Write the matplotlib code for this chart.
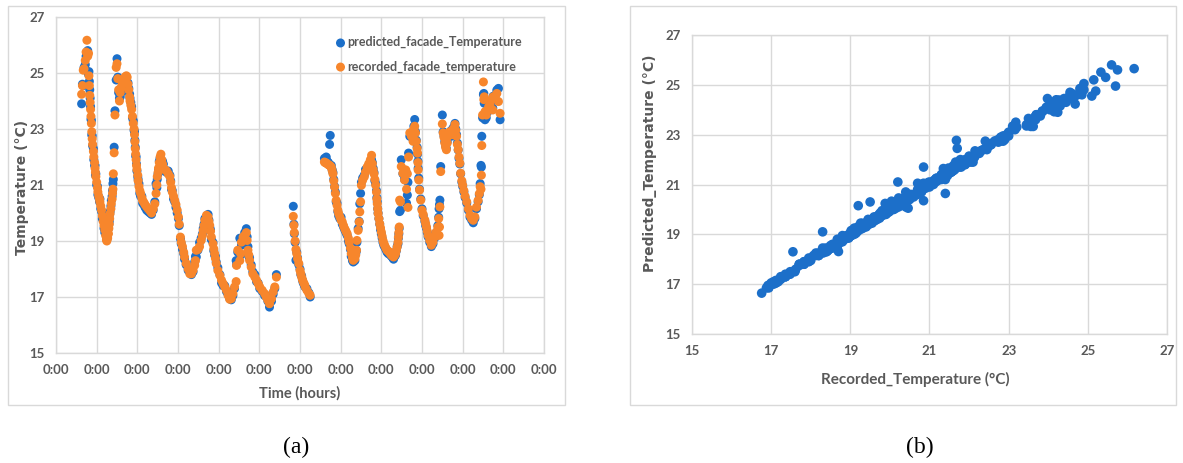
import matplotlib
matplotlib.use("Agg")
import matplotlib.pyplot as plt
from matplotlib.patches import Rectangle

# Facade temperature: time in days since start, recorded and predicted values (°C)
day = [
    0.63, 0.65, 0.67, 0.69, 0.72, 0.74, 0.76, 0.78, 0.80, 0.81, 0.82, 0.83, 0.84, 0.85, 0.86, 0.87,
    0.88, 0.89, 0.90, 0.92, 0.93, 0.95, 0.96, 0.97, 0.98, 1.00, 1.02, 1.03, 1.05, 1.07, 1.08, 1.10,
    1.12, 1.14, 1.16, 1.18, 1.20, 1.22, 1.24, 1.25, 1.27, 1.29, 1.30, 1.31, 1.32, 1.33, 1.35, 1.36,
    1.38, 1.39, 1.40, 1.41, 1.43, 1.45, 1.48, 1.50, 1.52, 1.54, 1.56, 1.58, 1.60, 1.62, 1.64, 1.66,
    1.68, 1.70, 1.73, 1.75, 1.77, 1.79, 1.81, 1.82, 1.84, 1.86, 1.88, 1.90, 1.92, 1.93, 1.94, 1.95,
    1.96, 1.97, 1.98, 1.99, 2.01, 2.02, 2.04, 2.06, 2.08, 2.11, 2.13, 2.16, 2.19, 2.23, 2.27, 2.31,
    2.35, 2.39, 2.43, 2.46, 2.48, 2.49, 2.51, 2.52, 2.54, 2.56, 2.58, 2.60, 2.62, 2.64, 2.68, 2.72,
    2.76, 2.80, 2.82, 2.84, 2.86, 2.89, 2.92, 2.95, 2.98, 3.01,
    3.03, 3.06, 3.08, 3.11, 3.14, 3.16, 3.20, 3.25, 3.29, 3.33, 3.37, 3.41, 3.43, 3.45, 3.49, 3.53,
    3.57, 3.60, 3.62, 3.64, 3.66, 3.70, 3.74, 3.76, 3.78, 3.80, 3.82, 3.86, 3.88, 3.90, 3.92, 3.94,
    3.98, 4.03, 4.07, 4.11, 4.15, 4.19, 4.23, 4.27, 4.31, 4.35, 4.39, 4.43,
    4.44, 4.47, 4.52, 4.54, 4.56, 4.60, 4.64, 4.68, 4.70, 4.72, 4.74, 4.76, 4.80, 4.84, 4.89, 4.93,
    4.97, 5.01, 5.07, 5.13, 5.17, 5.21, 5.25, 5.30, 5.34, 5.38, 5.42,
    5.835, 5.85, 5.86, 5.88, 5.90, 5.92, 5.94, 5.97, 6.00, 6.02, 6.04, 6.06, 6.08, 6.11, 6.13, 6.17,
    6.22, 6.25,
    6.60, 6.62, 6.645, 6.67, 6.70, 6.727, 6.744, 6.77, 6.79, 6.81, 6.83, 6.85, 6.87, 6.89, 6.91, 6.93,
    6.95, 6.98, 7.01, 7.04, 7.07, 7.10, 7.13, 7.16, 7.19, 7.21, 7.24, 7.26, 7.29, 7.31, 7.35, 7.37,
    7.39, 7.40, 7.43, 7.455, 7.47, 7.49, 7.51, 7.54, 7.58, 7.61, 7.65, 7.69, 7.73, 7.76,
    7.78, 7.80, 7.82, 7.84, 7.86, 7.88, 7.89, 7.90, 7.91, 7.92, 7.94, 7.96, 7.98, 8.00, 8.02, 8.04,
    8.06, 8.08, 8.11, 8.14, 8.17, 8.19, 8.22, 8.25, 8.28, 8.30, 8.33, 8.35, 8.37, 8.39, 8.41, 8.42,
    8.43, 8.44, 8.45, 8.47, 8.49, 8.53, 8.57, 8.60, 8.62, 8.64, 8.655, 8.67, 8.70, 8.74, 8.78, 8.80,
    8.82, 8.84, 8.86, 8.88, 8.89, 8.90, 8.905, 8.92, 8.94, 8.97, 9.00, 9.03, 9.07, 9.09, 9.11, 9.13,
    9.15, 9.19, 9.23, 9.27, 9.31, 9.35, 9.39, 9.41, 9.42, 9.43, 9.44, 9.46, 9.50, 9.52, 9.54, 9.56,
    9.58, 9.60, 9.62, 9.64, 9.68, 9.72, 9.75, 9.77, 9.81, 9.83, 9.85, 9.87, 9.89, 9.91, 9.93, 9.95,
    9.98, 10.00, 10.03, 10.06, 10.10, 10.14, 10.18, 10.22, 10.26, 10.30, 10.34, 10.38, 10.41, 10.43,
    10.45, 10.46, 10.47, 10.49, 10.51, 10.52, 10.53, 10.55, 10.58, 10.61, 10.64, 10.67, 10.71, 10.74,
    10.75, 10.80, 10.84, 10.88, 10.92,
]

recorded = [
    24.24, 24.55, 25.10, 25.15, 25.45, 25.75, 26.17, 25.60, 25.70, 24.90, 24.55, 24.20, 23.95, 23.70, 23.45, 23.20,
    22.90, 22.65, 22.45, 22.20, 22.00, 21.80, 21.60, 21.45, 21.30, 21.10, 20.90, 20.75, 20.60, 20.50, 20.40, 20.25,
    20.10, 19.90, 19.70, 19.55, 19.40, 19.20, 19.05, 19.00, 19.10, 19.26, 19.45, 19.60, 19.80, 19.98, 20.15, 20.33,
    20.50, 20.70, 20.85, 21.40, 22.15, 23.50, 25.20, 25.33, 24.80, 24.40, 24.00, 24.30, 24.45, 24.55, 24.65, 24.74,
    24.80, 24.86, 24.90, 24.85, 24.60, 24.40, 24.15, 24.00, 23.85, 23.70, 23.45, 23.20, 23.00, 22.80, 22.55, 22.30,
    22.10, 21.90, 21.70, 21.55, 21.35, 21.15, 20.95, 20.80, 20.70, 20.55, 20.45, 20.38, 20.30, 20.22, 20.15, 20.08,
    20.00, 20.15, 20.33, 20.70, 21.00, 21.30, 21.45, 21.60, 21.80, 22.00, 22.10, 21.90, 21.75, 21.60, 21.55, 21.50,
    21.40, 21.30, 21.10, 20.90, 20.75, 20.60, 20.45, 20.30, 20.10, 19.86,
    19.60, 19.14, 18.95, 18.80, 18.60, 18.43, 18.20, 18.00, 17.83, 17.83, 17.95, 18.13, 18.30, 18.67, 18.70, 18.80,
    19.02, 19.20, 19.38, 19.55, 19.74, 19.92, 19.86, 19.70, 19.56, 19.35, 19.14, 18.90, 18.72, 18.55, 18.38, 18.20,
    17.95, 17.77, 17.60, 17.48, 17.36, 17.24, 17.06, 16.92, 16.94, 17.12, 17.36, 17.55,
    18.13, 18.67, 18.30, 18.55, 18.96, 19.14, 19.20, 19.30, 19.02, 18.67, 18.50, 18.31, 18.07, 17.83, 17.71, 17.60,
    17.48, 17.36, 17.24, 17.12, 17.00, 16.88, 16.76, 16.94, 17.18, 17.36, 17.71,
    19.88, 19.56, 19.30, 19.00, 18.70, 18.55, 18.37, 18.20, 17.95, 17.83, 17.71, 17.62, 17.54, 17.45, 17.36, 17.24,
    17.12, 17.06,
    21.82, 21.80, 21.78, 21.76, 21.72, 21.70, 21.68, 21.64, 21.52, 21.40, 21.15, 20.93, 20.70, 20.45, 20.28, 20.10,
    19.98, 19.86, 19.75, 19.68, 19.55, 19.44, 19.35, 19.26, 19.10, 18.96, 18.75, 18.55, 18.40, 18.31, 18.37, 18.50,
    18.67, 19.02, 19.38, 19.68, 20.04, 20.40, 20.99, 21.17, 21.29, 21.46, 21.64, 21.76, 21.90, 22.06,
    21.76, 21.55, 21.40, 21.20, 21.00, 20.75, 20.50, 20.33, 20.15, 19.98, 19.80, 19.62, 19.47, 19.32, 19.17, 19.02,
    18.92, 18.85, 18.76, 18.67, 18.64, 18.61, 18.55, 18.49, 18.46, 18.43, 18.49, 18.55, 18.67, 18.79, 18.95, 19.14,
    19.30, 19.50, 20.46, 20.40, 21.66, 21.42, 21.18, 21.54, 20.85, 21.40, 20.20, 22.00, 22.86, 22.74, 22.56, 23.00,
    23.10, 22.86, 22.56, 22.30, 22.14, 21.80, 21.54, 21.18, 20.82, 20.46, 20.10, 19.95, 19.75, 19.62, 19.50, 19.35,
    19.20, 19.02, 18.85, 18.96, 19.14, 19.32, 19.50, 19.80, 19.20, 19.50, 20.22, 21.48, 23.18, 22.86, 22.70, 22.50,
    22.35, 22.26, 22.50, 22.74, 22.90, 22.86, 22.80, 23.00, 23.16, 22.95, 22.74, 22.45, 22.26, 22.00, 21.78, 21.42,
    21.15, 21.00, 20.80, 20.60, 20.40, 20.15, 19.92, 19.80, 19.74, 19.86, 20.21, 20.45, 20.69, 20.94,
    20.85, 21.35, 22.41, 23.50, 24.68, 24.05, 24.15, 23.62, 23.50, 23.68, 23.80, 23.86, 24.04, 23.68,
    24.15, 24.10, 24.27, 23.98, 23.56,
]

predicted = [
    23.90, 24.60, 24.55, 25.20, 25.30, 25.60, 25.65, 25.80, 24.95, 25.05, 24.70, 24.40, 24.10, 23.80, 23.35, 23.30,
    22.80, 22.75, 22.40, 22.30, 21.90, 21.70, 21.70, 21.35, 21.40, 21.00, 20.95, 20.65, 20.55, 20.40, 20.50, 20.15,
    20.05, 19.80, 19.75, 19.45, 19.30, 19.30, 19.15, 19.05, 19.25, 19.45, 19.60, 19.70, 19.95, 20.05, 20.25, 20.45,
    20.60, 20.80, 21.05, 21.20, 22.35, 23.65, 24.75, 25.51, 24.85, 24.30, 24.10, 24.15, 24.30, 24.45, 24.50, 24.60,
    24.70, 24.75, 24.80, 24.60, 24.65, 24.45, 24.25, 24.10, 23.95, 23.80, 23.40, 23.30, 22.95, 22.90, 22.60, 22.35,
    22.05, 22.00, 21.75, 21.50, 21.30, 21.20, 21.05, 20.70, 20.60, 20.60, 20.35, 20.30, 20.20, 20.10, 20.05, 20.00,
    19.95, 20.10, 20.40, 21.05, 20.90, 21.20, 21.40, 21.55, 21.85, 21.95, 21.90, 21.80, 21.85, 21.75, 21.50, 21.45,
    21.50, 21.35, 21.15, 20.85, 20.80, 20.50, 20.40, 20.20, 20.00, 19.80,
    19.55, 19.08, 18.90, 18.70, 18.55, 18.35, 18.15, 17.95, 17.90, 17.80, 17.90, 18.25, 18.45, 18.43, 18.67, 18.95,
    19.10, 19.25, 19.45, 19.60, 19.80, 19.85, 19.95, 19.75, 19.50, 19.40, 19.05, 18.95, 18.65, 18.50, 18.45, 18.25,
    18.05, 17.80, 17.50, 17.40, 17.40, 17.20, 17.10, 16.95, 16.90, 17.05, 17.30, 18.30,
    18.15, 18.60, 19.10, 18.50, 18.85, 19.05, 19.30, 19.44, 19.15, 18.80, 18.45, 18.40, 18.15, 17.90, 17.80, 17.55,
    17.50, 17.30, 17.20, 17.05, 17.05, 16.85, 16.64, 16.85, 17.10, 17.30, 17.80,
    20.24, 19.60, 19.26, 18.95, 18.31, 18.60, 18.40, 18.15, 18.00, 17.80, 17.75, 17.60, 17.50, 17.40, 17.35, 17.30,
    17.15, 17.00,
    21.95, 21.90, 22.00, 21.85, 21.80, 22.45, 22.77, 21.70, 21.55, 21.45, 21.20, 20.95, 20.75, 20.40, 20.35, 20.05,
    19.90, 19.80, 19.85, 19.60, 19.50, 19.40, 19.30, 19.20, 19.00, 18.90, 18.70, 18.45, 18.30, 18.25, 18.30, 18.55,
    18.65, 18.95, 19.45, 19.70, 20.33, 20.70, 21.10, 21.25, 21.35, 21.55, 21.60, 21.70, 21.80, 21.90,
    21.80, 21.60, 21.45, 21.15, 21.05, 20.80, 20.55, 20.40, 20.15, 20.00, 19.80, 19.60, 19.40, 19.25, 19.10, 18.95,
    18.85, 18.80, 18.70, 18.60, 18.55, 18.55, 18.50, 18.45, 18.40, 18.35, 18.45, 18.50, 18.65, 18.80, 18.90, 19.10,
    19.25, 19.45, 20.05, 20.10, 21.90, 21.40, 21.20, 21.50, 20.35, 20.64, 21.10, 22.14, 22.74, 22.80, 22.65, 23.10,
    23.34, 22.90, 22.60, 22.35, 22.10, 21.85, 21.60, 21.25, 20.85, 20.50, 20.15, 19.90, 19.70, 19.55, 19.45, 19.30,
    19.15, 18.95, 18.80, 18.90, 19.10, 19.30, 19.55, 19.85, 20.15, 20.30, 20.46, 21.66, 23.50, 22.90, 22.75, 22.55,
    22.40, 22.30, 22.55, 22.70, 22.85, 22.95, 22.75, 23.05, 23.20, 23.00, 22.80, 22.50, 22.25, 21.95, 21.75, 21.40,
    21.10, 20.95, 20.75, 20.55, 20.35, 20.10, 19.85, 19.75, 19.65, 19.80, 20.15, 20.40, 20.65, 21.05,
    21.70, 21.64, 22.74, 23.40, 24.23, 24.27, 23.92, 23.33, 23.40, 23.60, 23.75, 23.93, 24.00, 23.75,
    24.17, 24.20, 24.39, 24.45, 23.33,
]

day_ticks = list(range(0, 13))
day_tick_labels = ["0:00"] * len(day_ticks)
temp_ticks = [15, 17, 19, 21, 23, 25, 27]

BLUE = "#1C6FC9"
ORANGE = "#F7862C"
GRID = "#D9D9D9"
TEXT = "#595959"
FONT = ["Lato", "DejaVu Sans"]

W, H = 1183, 463
fig = plt.figure(figsize=(W / 100, H / 100), dpi=100)


def frame(x0, y0, x1, y1):
    return [x0 / W, 1 - y1 / H, (x1 - x0) / W, (y1 - y0) / H]


# outer chart-area borders
for x0, x1 in [(8, 565), (630, 1176)]:
    fig.patches.append(Rectangle((x0 / W, 1 - 405 / H), (x1 - x0) / W, 399 / H,
                                 transform=fig.transFigure, fill=False,
                                 edgecolor=GRID, linewidth=1.0))


def style_axes(ax, size):
    ax.grid(True, color=GRID, linewidth=1.0)
    ax.set_axisbelow(True)
    for s in ax.spines.values():
        s.set_color(GRID)
        s.set_linewidth(1.0)
    ax.tick_params(length=0, colors=TEXT, labelsize=size, pad=8)
    for lab in ax.get_xticklabels() + ax.get_yticklabels():
        lab.set_family(FONT)
        lab.set_fontweight("bold")


# (a) time series
ax1 = fig.add_axes(frame(56, 17, 544, 353))
h_pred = ax1.scatter(day, predicted, s=42, color=BLUE, edgecolors="none",
                     label="predicted_facade_Temperature", zorder=3)
h_rec = ax1.scatter(day, recorded, s=42, color=ORANGE, edgecolors="none",
                    label="recorded_facade_temperature", zorder=4)
ax1.set_xlim(0, 12)
ax1.set_ylim(15, 27)
ax1.set_xticks(day_ticks)
ax1.set_xticklabels(day_tick_labels)
ax1.set_yticks(temp_ticks)
style_axes(ax1, 9.5)
leg = ax1.legend(handles=[h_pred, h_rec], loc="upper left",
                 bbox_to_anchor=((328 - 56) / 488, 1 - (30 - 17) / 336),
                 frameon=False, borderpad=0, handletextpad=0.0, handlelength=1.0,
                 labelspacing=0.95, prop={"family": FONT, "size": 9, "weight": "bold"})
for t in leg.get_texts():
    t.set_color(TEXT)

fig.text(300 / W, 1 - 393 / H, "Time (hours)", ha="center", va="center",
         color=TEXT, family=FONT, fontsize=10.5, fontweight="bold")
fig.text(22 / W, 1 - 187 / H, "Temperature (°C)", ha="center", va="center",
         rotation=90, color=TEXT, family=["DejaVu Sans"], fontsize=10, fontweight="bold")

# (b) predicted vs recorded
ax2 = fig.add_axes(frame(692, 35, 1167, 334))
ax2.scatter(recorded, predicted, s=48, color=BLUE, edgecolors="none", zorder=3)
ax2.set_xlim(15, 27)
ax2.set_ylim(15, 27)
ax2.set_xticks(temp_ticks)
ax2.set_yticks(temp_ticks)
style_axes(ax2, 9.5)

fig.text(915 / W, 1 - 379 / H, "Recorded_Temperature (°C)", ha="center", va="center",
         color=TEXT, family=FONT, fontsize=11, fontweight="bold")
fig.text(650 / W, 1 - 163 / H, "Predicted_Temperature (°C)", ha="center", va="center",
         rotation=90, color=TEXT, family=["DejaVu Sans"], fontsize=10, fontweight="bold")

# panel captions
fig.text(296 / W, 1 - 447 / H, "(a)", ha="center", va="center",
         family=["Liberation Serif", "DejaVu Serif"], fontsize=17, color="black")
fig.text(920 / W, 1 - 447 / H, "(b)", ha="center", va="center",
         family=["Liberation Serif", "DejaVu Serif"], fontsize=17, color="black")

fig.savefig("out.png", dpi=100)
